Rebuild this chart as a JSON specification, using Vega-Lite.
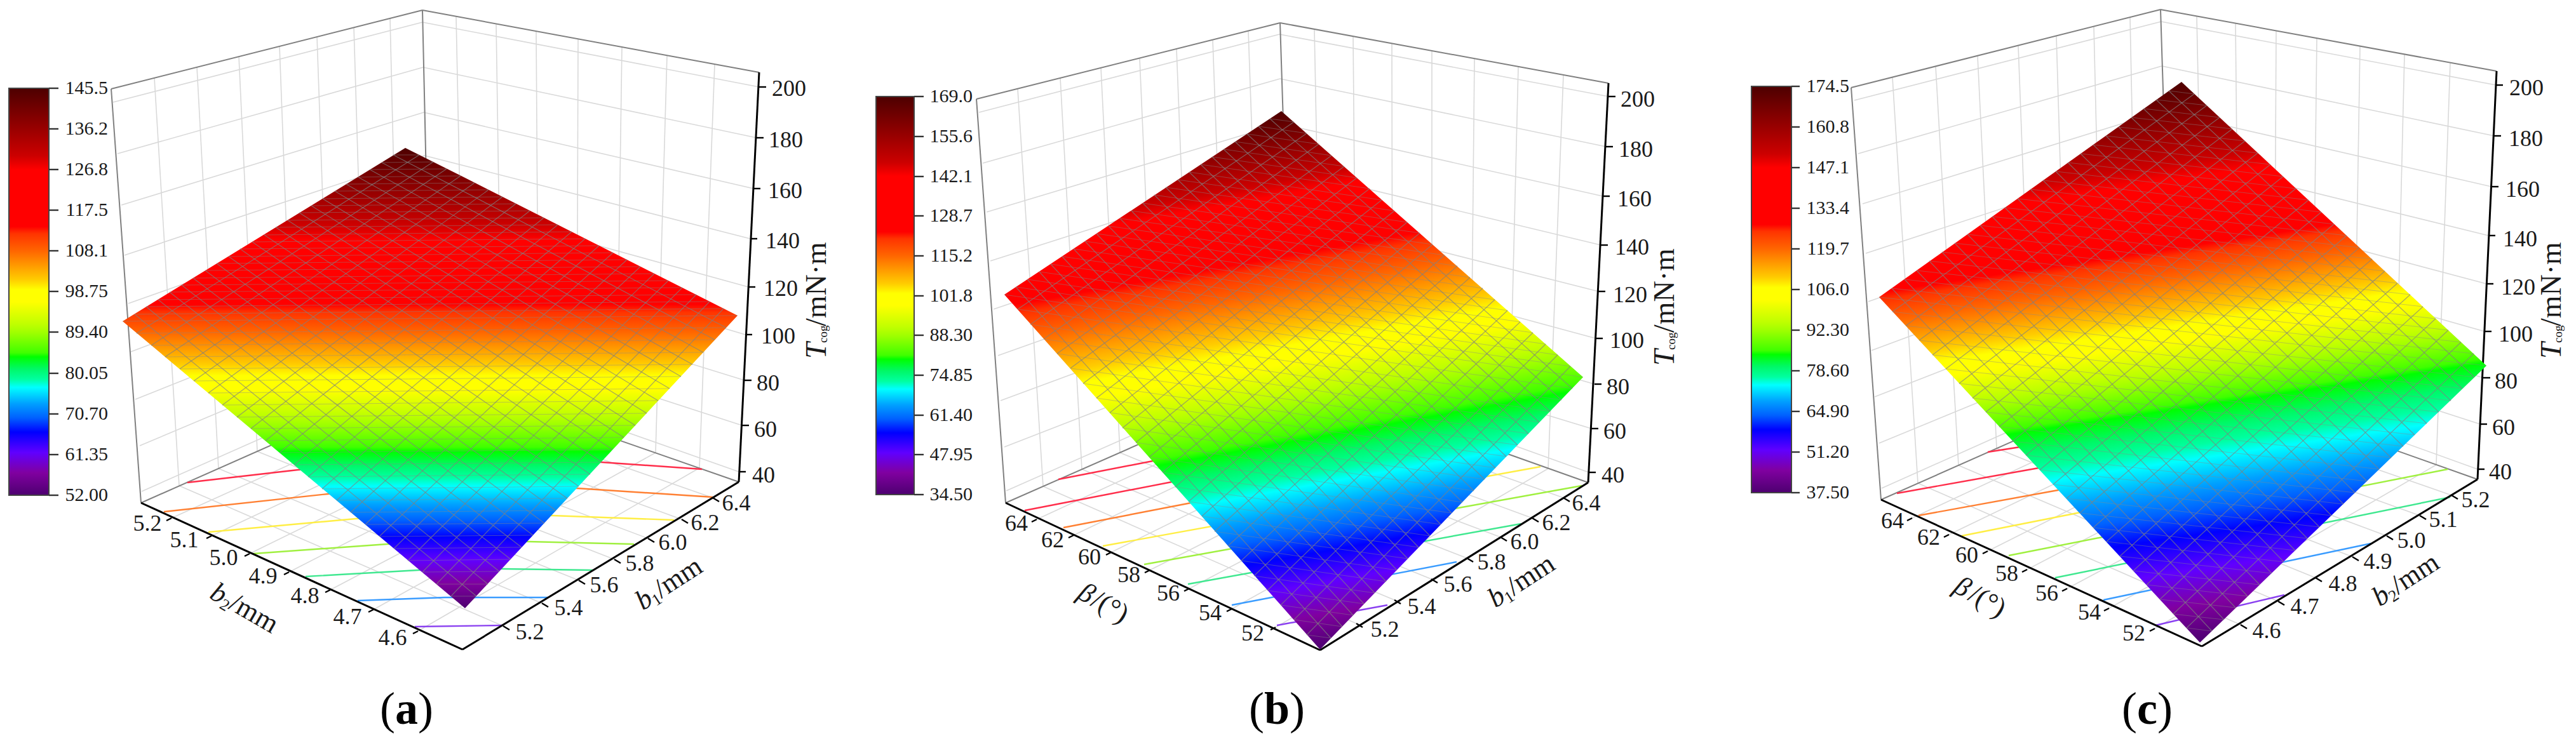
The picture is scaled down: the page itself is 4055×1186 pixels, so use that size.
{"$schema":"https://vega.github.io/schema/vega-lite/v6.json","width":4055,"height":1186,"padding":0,"autosize":{"type":"fit","contains":"padding"},"background":"white","config":{"view":{"stroke":null},"text":{"font":"Liberation Serif","fill":"#1a1a1a"}},
"datasets":{
"grid":[
{"x":178,"y":161,"x2":665,"y2":35},{"x":185,"y":242,"x2":666,"y2":106},{"x":191,"y":323,"x2":667,"y2":177},{"x":196,"y":402,"x2":668,"y2":245},{"x":202,"y":478,"x2":670,"y2":312},{"x":206,"y":554,"x2":672,"y2":378},{"x":213,"y":629,"x2":674,"y2":445},{"x":220,"y":702,"x2":676,"y2":510},{"x":223,"y":774,"x2":678,"y2":572},
{"x":665,"y":35,"x2":1195,"y2":137},{"x":666,"y":106,"x2":1191,"y2":217},{"x":667,"y":177,"x2":1186,"y2":297},{"x":668,"y":245,"x2":1181,"y2":376},{"x":670,"y":312,"x2":1178,"y2":452},{"x":672,"y":378,"x2":1173,"y2":527},{"x":674,"y":445,"x2":1172,"y2":599},{"x":676,"y":510,"x2":1168,"y2":670},{"x":678,"y":572,"x2":1163,"y2":743},
{"x":243,"y":123,"x2":282,"y2":765},{"x":310,"y":106,"x2":344,"y2":738},{"x":376,"y":89,"x2":405,"y2":711},{"x":440,"y":73,"x2":463,"y2":685},{"x":499,"y":58,"x2":520,"y2":660},{"x":557,"y":43,"x2":575,"y2":636},{"x":614,"y":29,"x2":628,"y2":612},
{"x":718,"y":26,"x2":730,"y2":608},{"x":781,"y":37,"x2":790,"y2":629},{"x":844,"y":49,"x2":848,"y2":649},{"x":910,"y":61,"x2":908,"y2":670},{"x":979,"y":74,"x2":970,"y2":692},{"x":1050,"y":87,"x2":1032,"y2":713},{"x":1125,"y":101,"x2":1101,"y2":737},
{"x":270,"y":816,"x2":730,"y2":608},{"x":333,"y":844,"x2":790,"y2":629},{"x":393,"y":872,"x2":848,"y2":649},{"x":455,"y":901,"x2":908,"y2":670},{"x":520,"y":929,"x2":970,"y2":692},{"x":588,"y":960,"x2":1032,"y2":713},{"x":658,"y":994,"x2":1101,"y2":737},
{"x":792,"y":986,"x2":282,"y2":765},{"x":853,"y":950,"x2":344,"y2":738},{"x":911,"y":914,"x2":405,"y2":711},{"x":967,"y":881,"x2":463,"y2":685},{"x":1020,"y":848,"x2":520,"y2":660},{"x":1073,"y":818,"x2":575,"y2":636},{"x":1122,"y":784,"x2":628,"y2":612},
{"x":1541,"y":177,"x2":2014,"y2":54},{"x":1547,"y":257,"x2":2015,"y2":124},{"x":1553,"y":334,"x2":2016,"y2":195},{"x":1559,"y":411,"x2":2017,"y2":265},{"x":1564,"y":487,"x2":2019,"y2":333},{"x":1571,"y":560,"x2":2021,"y2":400},{"x":1575,"y":631,"x2":2024,"y2":465},{"x":1581,"y":704,"x2":2028,"y2":530},{"x":1584,"y":773,"x2":2032,"y2":575},
{"x":2014,"y":54,"x2":2532,"y2":152},{"x":2015,"y":124,"x2":2528,"y2":231},{"x":2016,"y":195,"x2":2523,"y2":309},{"x":2017,"y":265,"x2":2520,"y2":386},{"x":2019,"y":333,"x2":2516,"y2":459},{"x":2021,"y":400,"x2":2512,"y2":533},{"x":2024,"y":465,"x2":2510,"y2":605},{"x":2028,"y":530,"x2":2505,"y2":675},{"x":2032,"y":575,"x2":2501,"y2":744},
{"x":1602,"y":140,"x2":1642,"y2":766},{"x":1669,"y":123,"x2":1703,"y2":739},{"x":1733,"y":107,"x2":1763,"y2":713},{"x":1794,"y":92,"x2":1820,"y2":688},{"x":1852,"y":77,"x2":1875,"y2":663},{"x":1909,"y":63,"x2":1930,"y2":639},{"x":1965,"y":49,"x2":1985,"y2":615},
{"x":2069,"y":46,"x2":2080,"y2":611},{"x":2130,"y":57,"x2":2135,"y2":630},{"x":2191,"y":68,"x2":2192,"y2":651},{"x":2254,"y":80,"x2":2254,"y2":673},{"x":2321,"y":92,"x2":2315,"y2":694},{"x":2390,"y":105,"x2":2375,"y2":716},{"x":2461,"y":118,"x2":2437,"y2":738},
{"x":1632,"y":818,"x2":2080,"y2":611},{"x":1690,"y":843,"x2":2135,"y2":630},{"x":1749,"y":870,"x2":2192,"y2":651},{"x":1810,"y":898,"x2":2254,"y2":673},{"x":1872,"y":927,"x2":2315,"y2":694},{"x":1939,"y":959,"x2":2375,"y2":716},{"x":2008,"y":988,"x2":2437,"y2":738},
{"x":2135,"y":982,"x2":1642,"y2":766},{"x":2195,"y":945,"x2":1703,"y2":739},{"x":2253,"y":912,"x2":1763,"y2":713},{"x":2309,"y":879,"x2":1820,"y2":688},{"x":2362,"y":846,"x2":1875,"y2":663},{"x":2412,"y":816,"x2":1930,"y2":639},{"x":2461,"y":784,"x2":1985,"y2":615},
{"x":2919,"y":158,"x2":3402,"y2":34},{"x":2925,"y":242,"x2":3403,"y2":104},{"x":2932,"y":321,"x2":3404,"y2":175},{"x":2937,"y":399,"x2":3405,"y2":245},{"x":2941,"y":475,"x2":3407,"y2":312},{"x":2946,"y":552,"x2":3410,"y2":380},{"x":2951,"y":625,"x2":3412,"y2":445},{"x":2958,"y":698,"x2":3415,"y2":510},{"x":2962,"y":769,"x2":3418,"y2":565},
{"x":3402,"y":34,"x2":3929,"y2":134},{"x":3403,"y":104,"x2":3926,"y2":214},{"x":3404,"y":175,"x2":3922,"y2":294},{"x":3405,"y":245,"x2":3917,"y2":371},{"x":3407,"y":312,"x2":3914,"y2":447},{"x":3410,"y":380,"x2":3911,"y2":522},{"x":3412,"y":445,"x2":3909,"y2":595},{"x":3415,"y":510,"x2":3904,"y2":668},{"x":3418,"y":565,"x2":3900,"y2":739},
{"x":2979,"y":122,"x2":3019,"y2":761},{"x":3047,"y":105,"x2":3083,"y2":733},{"x":3113,"y":88,"x2":3143,"y2":706},{"x":3177,"y":72,"x2":3200,"y2":681},{"x":3237,"y":57,"x2":3255,"y2":657},{"x":3296,"y":42,"x2":3310,"y2":632},{"x":3353,"y":27,"x2":3365,"y2":608},
{"x":3458,"y":26,"x2":3470,"y2":602},{"x":3519,"y":37,"x2":3525,"y2":622},{"x":3583,"y":48,"x2":3580,"y2":641},{"x":3647,"y":60,"x2":3640,"y2":663},{"x":3715,"y":73,"x2":3705,"y2":686},{"x":3785,"y":85,"x2":3770,"y2":709},{"x":3857,"y":99,"x2":3835,"y2":732},
{"x":3010,"y":816,"x2":3470,"y2":602},{"x":3068,"y":842,"x2":3525,"y2":622},{"x":3129,"y":868,"x2":3580,"y2":641},{"x":3191,"y":897,"x2":3640,"y2":663},{"x":3254,"y":927,"x2":3705,"y2":686},{"x":3320,"y":958,"x2":3770,"y2":709},{"x":3392,"y":990,"x2":3835,"y2":732},
{"x":3527,"y":984,"x2":3019,"y2":761},{"x":3586,"y":947,"x2":3083,"y2":733},{"x":3645,"y":910,"x2":3143,"y2":706},{"x":3703,"y":877,"x2":3200,"y2":681},{"x":3757,"y":844,"x2":3255,"y2":657},{"x":3809,"y":812,"x2":3310,"y2":632},{"x":3859,"y":780,"x2":3365,"y2":608}
],
"frame":[
{"x":175,"y":140,"x2":665,"y2":16},{"x":665,"y":16,"x2":1195,"y2":114},{"x":175,"y":140,"x2":222,"y2":792},{"x":665,"y":16,"x2":678,"y2":590},{"x":222,"y":792,"x2":678,"y2":590},{"x":678,"y":590,"x2":1163,"y2":759},
{"x":1537,"y":156,"x2":2015,"y2":36},{"x":2015,"y":36,"x2":2532,"y2":131},{"x":1537,"y":156,"x2":1583,"y2":792},{"x":2015,"y":36,"x2":2033,"y2":594},{"x":1583,"y":792,"x2":2033,"y2":594},{"x":2033,"y":594,"x2":2500,"y2":760},
{"x":2914,"y":138,"x2":3401,"y2":15},{"x":3401,"y":15,"x2":3930,"y2":112},{"x":2914,"y":138,"x2":2961,"y2":787},{"x":3401,"y":15,"x2":3419,"y2":584},{"x":2961,"y":787,"x2":3419,"y2":584},{"x":3419,"y":584,"x2":3900,"y2":755}
],
"axes":[
{"x":222,"y":792,"x2":728,"y2":1023},{"x":728,"y":1023,"x2":1163,"y2":759},{"x":1195,"y":114,"x2":1163,"y2":759},
{"x":1583,"y":792,"x2":2078,"y2":1024},{"x":2078,"y":1024,"x2":2500,"y2":760},{"x":2532,"y":131,"x2":2500,"y2":760},
{"x":2961,"y":787,"x2":3466,"y2":1018},{"x":3466,"y":1018,"x2":3900,"y2":755},{"x":3930,"y":112,"x2":3900,"y2":755}
],
"ticks":[
{"x":1195,"y":137,"x2":1206,"y2":137},{"x":1191,"y":217,"x2":1202,"y2":217},{"x":1186,"y":297,"x2":1197,"y2":297},{"x":1181,"y":376,"x2":1192,"y2":376},{"x":1178,"y":452,"x2":1189,"y2":452},{"x":1173,"y":527,"x2":1184,"y2":527},{"x":1172,"y":599,"x2":1183,"y2":599},{"x":1168,"y":670,"x2":1179,"y2":670},{"x":1163,"y":743,"x2":1174,"y2":743},
{"x":2532,"y":152,"x2":2543,"y2":152},{"x":2528,"y":231,"x2":2539,"y2":231},{"x":2523,"y":309,"x2":2534,"y2":309},{"x":2520,"y":386,"x2":2531,"y2":386},{"x":2516,"y":459,"x2":2527,"y2":459},{"x":2512,"y":533,"x2":2523,"y2":533},{"x":2510,"y":605,"x2":2521,"y2":605},{"x":2505,"y":675,"x2":2516,"y2":675},{"x":2501,"y":744,"x2":2512,"y2":744},
{"x":3929,"y":134,"x2":3940,"y2":134},{"x":3926,"y":214,"x2":3937,"y2":214},{"x":3922,"y":294,"x2":3933,"y2":294},{"x":3917,"y":371,"x2":3928,"y2":371},{"x":3914,"y":447,"x2":3925,"y2":447},{"x":3911,"y":522,"x2":3922,"y2":522},{"x":3909,"y":595,"x2":3920,"y2":595},{"x":3904,"y":668,"x2":3915,"y2":668},{"x":3900,"y":739,"x2":3911,"y2":739},
{"x":270,"y":816,"x2":262,"y2":820},{"x":333,"y":844,"x2":325,"y2":848},{"x":393,"y":872,"x2":385,"y2":876},{"x":455,"y":901,"x2":447,"y2":905},{"x":520,"y":929,"x2":512,"y2":933},{"x":588,"y":960,"x2":580,"y2":964},{"x":658,"y":994,"x2":650,"y2":998},
{"x":792,"y":986,"x2":802,"y2":992},{"x":853,"y":950,"x2":863,"y2":956},{"x":911,"y":914,"x2":921,"y2":920},{"x":967,"y":881,"x2":977,"y2":887},{"x":1020,"y":848,"x2":1030,"y2":854},{"x":1073,"y":818,"x2":1083,"y2":824},{"x":1122,"y":784,"x2":1132,"y2":790},
{"x":1632,"y":818,"x2":1624,"y2":822},{"x":1690,"y":843,"x2":1682,"y2":847},{"x":1749,"y":870,"x2":1741,"y2":874},{"x":1810,"y":898,"x2":1802,"y2":902},{"x":1872,"y":927,"x2":1864,"y2":931},{"x":1939,"y":959,"x2":1931,"y2":963},{"x":2008,"y":988,"x2":2000,"y2":992},
{"x":2135,"y":982,"x2":2145,"y2":988},{"x":2195,"y":945,"x2":2205,"y2":951},{"x":2253,"y":912,"x2":2263,"y2":918},{"x":2309,"y":879,"x2":2319,"y2":885},{"x":2362,"y":846,"x2":2372,"y2":852},{"x":2412,"y":816,"x2":2422,"y2":822},{"x":2461,"y":784,"x2":2471,"y2":790},
{"x":3010,"y":816,"x2":3002,"y2":820},{"x":3068,"y":842,"x2":3060,"y2":846},{"x":3129,"y":868,"x2":3121,"y2":872},{"x":3191,"y":897,"x2":3183,"y2":901},{"x":3254,"y":927,"x2":3246,"y2":931},{"x":3320,"y":958,"x2":3312,"y2":962},{"x":3392,"y":990,"x2":3384,"y2":994},
{"x":3527,"y":984,"x2":3537,"y2":990},{"x":3586,"y":947,"x2":3596,"y2":953},{"x":3645,"y":910,"x2":3655,"y2":916},{"x":3703,"y":877,"x2":3713,"y2":883},{"x":3757,"y":844,"x2":3767,"y2":850},{"x":3809,"y":812,"x2":3819,"y2":818},{"x":3859,"y":780,"x2":3869,"y2":786}
],
"contours":[
{"line":"a1","level":"l1","x":295,"y":760},{"line":"a1","level":"l1","x":469,"y":740},{"line":"a1","level":"l1","x":700,"y":722},{"line":"a1","level":"l1","x":947,"y":728},{"line":"a1","level":"l1","x":1105,"y":739},
{"line":"a2","level":"l2","x":258,"y":806},{"line":"a2","level":"l2","x":516,"y":778},{"line":"a2","level":"l2","x":700,"y":765},{"line":"a2","level":"l2","x":908,"y":769},{"line":"a2","level":"l2","x":1122,"y":783},
{"line":"a3","level":"l3","x":328,"y":838},{"line":"a3","level":"l3","x":560,"y":817},{"line":"a3","level":"l3","x":700,"y":808},{"line":"a3","level":"l3","x":869,"y":812},{"line":"a3","level":"l3","x":1061,"y":819},
{"line":"a4","level":"l4","x":399,"y":872},{"line":"a4","level":"l4","x":609,"y":857},{"line":"a4","level":"l4","x":720,"y":850},{"line":"a4","level":"l4","x":831,"y":853},{"line":"a4","level":"l4","x":998,"y":857},
{"line":"a5","level":"l5","x":481,"y":908},{"line":"a5","level":"l5","x":658,"y":898},{"line":"a5","level":"l5","x":730,"y":895},{"line":"a5","level":"l5","x":793,"y":896},{"line":"a5","level":"l5","x":933,"y":898},
{"line":"a6","level":"l6","x":563,"y":946},{"line":"a6","level":"l6","x":700,"y":941},{"line":"a6","level":"l6","x":862,"y":941},
{"line":"a7","level":"l7","x":653,"y":987},{"line":"a7","level":"l7","x":791,"y":985},
{"line":"b0","level":"l1","x":1666,"y":755},{"line":"b0","level":"l1","x":1820,"y":725},
{"line":"b1","level":"l1","x":1613,"y":804},{"line":"b1","level":"l1","x":1850,"y":758},
{"line":"b2","level":"l2","x":1674,"y":831},{"line":"b2","level":"l2","x":1880,"y":791},
{"line":"b3","level":"l3","x":1736,"y":860},{"line":"b3","level":"l3","x":2425,"y":735},
{"line":"b4","level":"l4","x":1801,"y":889},{"line":"b4","level":"l4","x":2490,"y":765},
{"line":"b5","level":"l5","x":1870,"y":920},{"line":"b5","level":"l5","x":2394,"y":825},
{"line":"b6","level":"l6","x":1939,"y":953},{"line":"b6","level":"l6","x":2293,"y":885},
{"line":"b7","level":"l7","x":2010,"y":985},{"line":"b7","level":"l7","x":2184,"y":953},
{"line":"c0","level":"l1","x":3129,"y":712},{"line":"c0","level":"l1","x":3180,"y":704},
{"line":"c1","level":"l1","x":2986,"y":777},{"line":"c1","level":"l1","x":3215,"y":736},
{"line":"c2","level":"l2","x":3020,"y":812},{"line":"c2","level":"l2","x":3245,"y":771},
{"line":"c3","level":"l3","x":3088,"y":844},{"line":"c3","level":"l3","x":3280,"y":806},
{"line":"c4","level":"l4","x":3162,"y":875},{"line":"c4","level":"l4","x":3853,"y":739},
{"line":"c5","level":"l5","x":3235,"y":910},{"line":"c5","level":"l5","x":3857,"y":783},
{"line":"c6","level":"l6","x":3311,"y":945},{"line":"c6","level":"l6","x":3732,"y":856},
{"line":"c7","level":"l7","x":3393,"y":985},{"line":"c7","level":"l7","x":3596,"y":937}
],
"surfA":[{"x":193,"y":506,"y2":506},{"x":638,"y":233,"y2":879},{"x":732,"y":280,"y2":958},{"x":1161,"y":497,"y2":497}],
"surfB":[{"x":1581,"y":464,"y2":464},{"x":2017,"y":175,"y2":954},{"x":2078,"y":229,"y2":1023},{"x":2492,"y":594,"y2":594}],
"surfC":[{"x":2958,"y":468,"y2":468},{"x":3434,"y":129,"y2":981},{"x":3463,"y":156,"y2":1012},{"x":3914,"y":576,"y2":576}],
"mesh":[
{"x":215,"y":525,"x2":660,"y2":244},{"x":238,"y":544,"x2":682,"y2":255},{"x":260,"y":562,"x2":703,"y2":266},{"x":283,"y":581,"x2":725,"y2":277},{"x":305,"y":600,"x2":747,"y2":288},{"x":328,"y":619,"x2":769,"y2":299},{"x":350,"y":638,"x2":791,"y2":310},{"x":373,"y":657,"x2":812,"y2":321},{"x":395,"y":675,"x2":834,"y2":332},{"x":418,"y":694,"x2":856,"y2":343},{"x":440,"y":713,"x2":878,"y2":354},{"x":463,"y":732,"x2":900,"y2":365},{"x":485,"y":751,"x2":921,"y2":376},{"x":507,"y":770,"x2":943,"y2":387},{"x":530,"y":788,"x2":965,"y2":398},{"x":552,"y":807,"x2":987,"y2":409},{"x":575,"y":826,"x2":1008,"y2":420},{"x":597,"y":845,"x2":1030,"y2":431},{"x":620,"y":864,"x2":1052,"y2":442},{"x":642,"y":883,"x2":1074,"y2":453},{"x":665,"y":901,"x2":1096,"y2":464},{"x":687,"y":920,"x2":1117,"y2":475},{"x":710,"y":939,"x2":1139,"y2":486},
{"x":212,"y":495,"x2":750,"y2":939},{"x":230,"y":483,"x2":768,"y2":920},{"x":249,"y":472,"x2":786,"y2":900},{"x":267,"y":460,"x2":804,"y2":881},{"x":286,"y":449,"x2":821,"y2":862},{"x":304,"y":438,"x2":839,"y2":843},{"x":323,"y":426,"x2":857,"y2":824},{"x":341,"y":415,"x2":875,"y2":804},{"x":360,"y":404,"x2":893,"y2":785},{"x":378,"y":392,"x2":911,"y2":766},{"x":397,"y":381,"x2":929,"y2":747},{"x":416,"y":370,"x2":947,"y2":728},{"x":434,"y":358,"x2":964,"y2":708},{"x":453,"y":347,"x2":982,"y2":689},{"x":471,"y":335,"x2":1000,"y2":670},{"x":490,"y":324,"x2":1018,"y2":651},{"x":508,"y":313,"x2":1036,"y2":631},{"x":527,"y":301,"x2":1054,"y2":612},{"x":545,"y":290,"x2":1072,"y2":593},{"x":564,"y":279,"x2":1090,"y2":574},{"x":582,"y":267,"x2":1107,"y2":555},{"x":601,"y":256,"x2":1125,"y2":535},{"x":619,"y":244,"x2":1143,"y2":516},
{"x":1602,"y":487,"x2":2037,"y2":192},{"x":1622,"y":511,"x2":2057,"y2":210},{"x":1643,"y":534,"x2":2076,"y2":227},{"x":1664,"y":557,"x2":2096,"y2":245},{"x":1685,"y":580,"x2":2116,"y2":262},{"x":1705,"y":604,"x2":2136,"y2":280},{"x":1726,"y":627,"x2":2156,"y2":297},{"x":1747,"y":650,"x2":2175,"y2":315},{"x":1767,"y":674,"x2":2195,"y2":332},{"x":1788,"y":697,"x2":2215,"y2":350},{"x":1809,"y":720,"x2":2235,"y2":367},{"x":1830,"y":744,"x2":2255,"y2":385},{"x":1850,"y":767,"x2":2274,"y2":402},{"x":1871,"y":790,"x2":2294,"y2":419},{"x":1892,"y":813,"x2":2314,"y2":437},{"x":1912,"y":837,"x2":2334,"y2":454},{"x":1933,"y":860,"x2":2353,"y2":472},{"x":1954,"y":883,"x2":2373,"y2":489},{"x":1974,"y":907,"x2":2393,"y2":507},{"x":1995,"y":930,"x2":2413,"y2":524},{"x":2016,"y":953,"x2":2433,"y2":542},{"x":2037,"y":976,"x2":2452,"y2":559},{"x":2057,"y":1000,"x2":2472,"y2":577},
{"x":1599,"y":452,"x2":2095,"y2":1005},{"x":1617,"y":440,"x2":2113,"y2":987},{"x":1636,"y":428,"x2":2130,"y2":969},{"x":1654,"y":416,"x2":2147,"y2":951},{"x":1672,"y":404,"x2":2164,"y2":934},{"x":1690,"y":392,"x2":2182,"y2":916},{"x":1708,"y":380,"x2":2199,"y2":898},{"x":1726,"y":368,"x2":2216,"y2":880},{"x":1745,"y":356,"x2":2233,"y2":862},{"x":1763,"y":344,"x2":2251,"y2":844},{"x":1781,"y":332,"x2":2268,"y2":826},{"x":1799,"y":320,"x2":2285,"y2":808},{"x":1817,"y":307,"x2":2302,"y2":791},{"x":1835,"y":295,"x2":2320,"y2":773},{"x":1854,"y":283,"x2":2337,"y2":755},{"x":1872,"y":271,"x2":2354,"y2":737},{"x":1890,"y":259,"x2":2371,"y2":719},{"x":1908,"y":247,"x2":2389,"y2":701},{"x":1926,"y":235,"x2":2406,"y2":683},{"x":1944,"y":223,"x2":2423,"y2":665},{"x":1963,"y":211,"x2":2440,"y2":648},{"x":1981,"y":199,"x2":2458,"y2":630},{"x":1999,"y":187,"x2":2475,"y2":612},
{"x":2979,"y":491,"x2":3454,"y2":148},{"x":3000,"y":513,"x2":3474,"y2":166},{"x":3021,"y":536,"x2":3494,"y2":185},{"x":3042,"y":559,"x2":3514,"y2":203},{"x":3063,"y":581,"x2":3534,"y2":222},{"x":3084,"y":604,"x2":3554,"y2":241},{"x":3105,"y":627,"x2":3574,"y2":259},{"x":3126,"y":649,"x2":3594,"y2":278},{"x":3147,"y":672,"x2":3614,"y2":297},{"x":3168,"y":695,"x2":3634,"y2":315},{"x":3189,"y":717,"x2":3654,"y2":334},{"x":3211,"y":740,"x2":3674,"y2":353},{"x":3232,"y":763,"x2":3694,"y2":371},{"x":3253,"y":785,"x2":3714,"y2":390},{"x":3274,"y":808,"x2":3734,"y2":408},{"x":3295,"y":831,"x2":3754,"y2":427},{"x":3316,"y":853,"x2":3774,"y2":446},{"x":3337,"y":876,"x2":3794,"y2":464},{"x":3358,"y":899,"x2":3814,"y2":483},{"x":3379,"y":921,"x2":3834,"y2":502},{"x":3400,"y":944,"x2":3854,"y2":520},{"x":3421,"y":967,"x2":3874,"y2":539},{"x":3442,"y":989,"x2":3894,"y2":557},
{"x":2978,"y":454,"x2":3482,"y2":994},{"x":2998,"y":440,"x2":3501,"y2":976},{"x":3017,"y":426,"x2":3519,"y2":957},{"x":3037,"y":411,"x2":3538,"y2":939},{"x":3057,"y":397,"x2":3557,"y2":921},{"x":3077,"y":383,"x2":3576,"y2":903},{"x":3097,"y":369,"x2":3595,"y2":885},{"x":3117,"y":355,"x2":3613,"y2":867},{"x":3136,"y":341,"x2":3632,"y2":848},{"x":3156,"y":327,"x2":3651,"y2":830},{"x":3176,"y":313,"x2":3670,"y2":812},{"x":3196,"y":298,"x2":3689,"y2":794},{"x":3216,"y":284,"x2":3707,"y2":776},{"x":3236,"y":270,"x2":3726,"y2":758},{"x":3255,"y":256,"x2":3745,"y2":739},{"x":3275,"y":242,"x2":3764,"y2":721},{"x":3295,"y":228,"x2":3783,"y2":703},{"x":3315,"y":214,"x2":3801,"y2":685},{"x":3335,"y":200,"x2":3820,"y2":667},{"x":3355,"y":185,"x2":3839,"y2":649},{"x":3374,"y":171,"x2":3858,"y2":631},{"x":3394,"y":157,"x2":3876,"y2":612},{"x":3414,"y":143,"x2":3895,"y2":594}
],
"diag":[
{"x":212,"y":495,"x2":1139,"y2":486},{"x":230,"y":483,"x2":1117,"y2":475},{"x":249,"y":472,"x2":1096,"y2":464},{"x":267,"y":460,"x2":1074,"y2":453},{"x":286,"y":449,"x2":1052,"y2":442},{"x":304,"y":438,"x2":1030,"y2":431},{"x":323,"y":426,"x2":1008,"y2":420},{"x":341,"y":415,"x2":987,"y2":409},{"x":360,"y":404,"x2":965,"y2":398},{"x":378,"y":392,"x2":943,"y2":387},{"x":397,"y":381,"x2":921,"y2":376},{"x":416,"y":370,"x2":900,"y2":365},{"x":434,"y":358,"x2":878,"y2":354},{"x":453,"y":347,"x2":856,"y2":343},{"x":471,"y":335,"x2":834,"y2":332},{"x":490,"y":324,"x2":812,"y2":321},{"x":508,"y":313,"x2":791,"y2":310},{"x":527,"y":301,"x2":769,"y2":299},{"x":545,"y":290,"x2":747,"y2":288},{"x":564,"y":279,"x2":725,"y2":277},{"x":582,"y":267,"x2":703,"y2":266},{"x":601,"y":256,"x2":682,"y2":255},{"x":619,"y":244,"x2":660,"y2":244},
{"x":193,"y":506,"x2":1161,"y2":497},{"x":215,"y":525,"x2":1143,"y2":516},{"x":238,"y":544,"x2":1125,"y2":535},{"x":260,"y":562,"x2":1107,"y2":555},{"x":283,"y":581,"x2":1090,"y2":574},{"x":305,"y":600,"x2":1072,"y2":593},{"x":328,"y":619,"x2":1054,"y2":612},{"x":350,"y":638,"x2":1036,"y2":631},{"x":373,"y":657,"x2":1018,"y2":651},{"x":395,"y":675,"x2":1000,"y2":670},{"x":418,"y":694,"x2":982,"y2":689},{"x":440,"y":713,"x2":964,"y2":708},{"x":463,"y":732,"x2":947,"y2":728},{"x":485,"y":751,"x2":929,"y2":747},{"x":507,"y":770,"x2":911,"y2":766},{"x":530,"y":788,"x2":893,"y2":785},{"x":552,"y":807,"x2":875,"y2":804},{"x":575,"y":826,"x2":857,"y2":824},{"x":597,"y":845,"x2":839,"y2":843},{"x":620,"y":864,"x2":821,"y2":862},{"x":642,"y":883,"x2":804,"y2":881},{"x":665,"y":901,"x2":786,"y2":900},{"x":687,"y":920,"x2":768,"y2":920},{"x":710,"y":939,"x2":750,"y2":939},
{"x":1599,"y":452,"x2":2472,"y2":577},{"x":1617,"y":440,"x2":2452,"y2":559},{"x":1636,"y":428,"x2":2433,"y2":542},{"x":1654,"y":416,"x2":2413,"y2":524},{"x":1672,"y":404,"x2":2393,"y2":507},{"x":1690,"y":392,"x2":2373,"y2":489},{"x":1708,"y":380,"x2":2353,"y2":472},{"x":1726,"y":368,"x2":2334,"y2":454},{"x":1745,"y":356,"x2":2314,"y2":437},{"x":1763,"y":344,"x2":2294,"y2":419},{"x":1781,"y":332,"x2":2274,"y2":402},{"x":1799,"y":320,"x2":2255,"y2":385},{"x":1817,"y":307,"x2":2235,"y2":367},{"x":1835,"y":295,"x2":2215,"y2":350},{"x":1854,"y":283,"x2":2195,"y2":332},{"x":1872,"y":271,"x2":2175,"y2":315},{"x":1890,"y":259,"x2":2156,"y2":297},{"x":1908,"y":247,"x2":2136,"y2":280},{"x":1926,"y":235,"x2":2116,"y2":262},{"x":1944,"y":223,"x2":2096,"y2":245},{"x":1963,"y":211,"x2":2076,"y2":227},{"x":1981,"y":199,"x2":2057,"y2":210},{"x":1999,"y":187,"x2":2037,"y2":192},
{"x":1581,"y":464,"x2":2492,"y2":594},{"x":1602,"y":487,"x2":2475,"y2":612},{"x":1622,"y":511,"x2":2458,"y2":630},{"x":1643,"y":534,"x2":2440,"y2":648},{"x":1664,"y":557,"x2":2423,"y2":665},{"x":1685,"y":580,"x2":2406,"y2":683},{"x":1705,"y":604,"x2":2389,"y2":701},{"x":1726,"y":627,"x2":2371,"y2":719},{"x":1747,"y":650,"x2":2354,"y2":737},{"x":1767,"y":674,"x2":2337,"y2":755},{"x":1788,"y":697,"x2":2320,"y2":773},{"x":1809,"y":720,"x2":2302,"y2":791},{"x":1830,"y":744,"x2":2285,"y2":808},{"x":1850,"y":767,"x2":2268,"y2":826},{"x":1871,"y":790,"x2":2251,"y2":844},{"x":1892,"y":813,"x2":2233,"y2":862},{"x":1912,"y":837,"x2":2216,"y2":880},{"x":1933,"y":860,"x2":2199,"y2":898},{"x":1954,"y":883,"x2":2182,"y2":916},{"x":1974,"y":907,"x2":2164,"y2":934},{"x":1995,"y":930,"x2":2147,"y2":951},{"x":2016,"y":953,"x2":2130,"y2":969},{"x":2037,"y":976,"x2":2113,"y2":987},{"x":2057,"y":1000,"x2":2095,"y2":1005},
{"x":2978,"y":454,"x2":3894,"y2":557},{"x":2998,"y":440,"x2":3874,"y2":539},{"x":3017,"y":426,"x2":3854,"y2":520},{"x":3037,"y":411,"x2":3834,"y2":502},{"x":3057,"y":397,"x2":3814,"y2":483},{"x":3077,"y":383,"x2":3794,"y2":464},{"x":3097,"y":369,"x2":3774,"y2":446},{"x":3117,"y":355,"x2":3754,"y2":427},{"x":3136,"y":341,"x2":3734,"y2":408},{"x":3156,"y":327,"x2":3714,"y2":390},{"x":3176,"y":313,"x2":3694,"y2":371},{"x":3196,"y":298,"x2":3674,"y2":353},{"x":3216,"y":284,"x2":3654,"y2":334},{"x":3236,"y":270,"x2":3634,"y2":315},{"x":3255,"y":256,"x2":3614,"y2":297},{"x":3275,"y":242,"x2":3594,"y2":278},{"x":3295,"y":228,"x2":3574,"y2":259},{"x":3315,"y":214,"x2":3554,"y2":241},{"x":3335,"y":200,"x2":3534,"y2":222},{"x":3355,"y":185,"x2":3514,"y2":203},{"x":3374,"y":171,"x2":3494,"y2":185},{"x":3394,"y":157,"x2":3474,"y2":166},{"x":3414,"y":143,"x2":3454,"y2":148},
{"x":2958,"y":468,"x2":3914,"y2":576},{"x":2979,"y":491,"x2":3895,"y2":594},{"x":3000,"y":513,"x2":3876,"y2":612},{"x":3021,"y":536,"x2":3858,"y2":631},{"x":3042,"y":559,"x2":3839,"y2":649},{"x":3063,"y":581,"x2":3820,"y2":667},{"x":3084,"y":604,"x2":3801,"y2":685},{"x":3105,"y":627,"x2":3783,"y2":703},{"x":3126,"y":649,"x2":3764,"y2":721},{"x":3147,"y":672,"x2":3745,"y2":739},{"x":3168,"y":695,"x2":3726,"y2":758},{"x":3189,"y":717,"x2":3707,"y2":776},{"x":3211,"y":740,"x2":3689,"y2":794},{"x":3232,"y":763,"x2":3670,"y2":812},{"x":3253,"y":785,"x2":3651,"y2":830},{"x":3274,"y":808,"x2":3632,"y2":848},{"x":3295,"y":831,"x2":3613,"y2":867},{"x":3316,"y":853,"x2":3595,"y2":885},{"x":3337,"y":876,"x2":3576,"y2":903},{"x":3358,"y":899,"x2":3557,"y2":921},{"x":3379,"y":921,"x2":3538,"y2":939},{"x":3400,"y":944,"x2":3519,"y2":957},{"x":3421,"y":967,"x2":3501,"y2":976},{"x":3442,"y":989,"x2":3482,"y2":994}
],
"bars":[{"x":14,"x2":77,"y":139,"y2":780},{"x":1379,"x2":1439,"y":152,"y2":779},{"x":2757,"x2":2820,"y":136,"y2":776}],
"barTicks":[
{"x":77,"x2":92,"y":139,"y2":139},{"x":77,"x2":92,"y":203,"y2":203},{"x":77,"x2":92,"y":267,"y2":267},{"x":77,"x2":92,"y":331,"y2":331},{"x":77,"x2":92,"y":395,"y2":395},{"x":77,"x2":92,"y":459,"y2":459},{"x":77,"x2":92,"y":523,"y2":523},{"x":77,"x2":92,"y":588,"y2":588},{"x":77,"x2":92,"y":652,"y2":652},{"x":77,"x2":92,"y":716,"y2":716},{"x":77,"x2":92,"y":780,"y2":780},
{"x":1439,"x2":1454,"y":152,"y2":152},{"x":1439,"x2":1454,"y":215,"y2":215},{"x":1439,"x2":1454,"y":278,"y2":278},{"x":1439,"x2":1454,"y":340,"y2":340},{"x":1439,"x2":1454,"y":403,"y2":403},{"x":1439,"x2":1454,"y":466,"y2":466},{"x":1439,"x2":1454,"y":528,"y2":528},{"x":1439,"x2":1454,"y":591,"y2":591},{"x":1439,"x2":1454,"y":654,"y2":654},{"x":1439,"x2":1454,"y":716,"y2":716},{"x":1439,"x2":1454,"y":779,"y2":779},
{"x":2820,"x2":2833,"y":136,"y2":136},{"x":2820,"x2":2833,"y":200,"y2":200},{"x":2820,"x2":2833,"y":264,"y2":264},{"x":2820,"x2":2833,"y":328,"y2":328},{"x":2820,"x2":2833,"y":392,"y2":392},{"x":2820,"x2":2833,"y":456,"y2":456},{"x":2820,"x2":2833,"y":520,"y2":520},{"x":2820,"x2":2833,"y":584,"y2":584},{"x":2820,"x2":2833,"y":648,"y2":648},{"x":2820,"x2":2833,"y":712,"y2":712},{"x":2820,"x2":2833,"y":776,"y2":776}
],
"barLabels":[
{"x":170,"y":139,"t":"145.5"},{"x":170,"y":203,"t":"136.2"},{"x":170,"y":267,"t":"126.8"},{"x":170,"y":331,"t":"117.5"},{"x":170,"y":395,"t":"108.1"},{"x":170,"y":459,"t":"98.75"},{"x":170,"y":523,"t":"89.40"},{"x":170,"y":588,"t":"80.05"},{"x":170,"y":652,"t":"70.70"},{"x":170,"y":716,"t":"61.35"},{"x":170,"y":780,"t":"52.00"},
{"x":1531,"y":152,"t":"169.0"},{"x":1531,"y":215,"t":"155.6"},{"x":1531,"y":278,"t":"142.1"},{"x":1531,"y":340,"t":"128.7"},{"x":1531,"y":403,"t":"115.2"},{"x":1531,"y":466,"t":"101.8"},{"x":1531,"y":528,"t":"88.30"},{"x":1531,"y":591,"t":"74.85"},{"x":1531,"y":654,"t":"61.40"},{"x":1531,"y":716,"t":"47.95"},{"x":1531,"y":779,"t":"34.50"},
{"x":2911,"y":136,"t":"174.5"},{"x":2911,"y":200,"t":"160.8"},{"x":2911,"y":264,"t":"147.1"},{"x":2911,"y":328,"t":"133.4"},{"x":2911,"y":392,"t":"119.7"},{"x":2911,"y":456,"t":"106.0"},{"x":2911,"y":520,"t":"92.30"},{"x":2911,"y":584,"t":"78.60"},{"x":2911,"y":648,"t":"64.90"},{"x":2911,"y":712,"t":"51.20"},{"x":2911,"y":776,"t":"37.50"}
],
"zLabels":[
{"x":1215,"y":140,"t":"200"},{"x":1210,"y":221,"t":"180"},{"x":1209,"y":301,"t":"160"},{"x":1205,"y":380,"t":"140"},{"x":1202,"y":455,"t":"120"},{"x":1198,"y":530,"t":"100"},{"x":1191,"y":604,"t":"80"},{"x":1187,"y":677,"t":"60"},{"x":1184,"y":749,"t":"40"},
{"x":2551,"y":157,"t":"200"},{"x":2548,"y":236,"t":"180"},{"x":2546,"y":314,"t":"160"},{"x":2542,"y":390,"t":"140"},{"x":2539,"y":465,"t":"120"},{"x":2534,"y":537,"t":"100"},{"x":2529,"y":610,"t":"80"},{"x":2524,"y":680,"t":"60"},{"x":2521,"y":749,"t":"40"},
{"x":3950,"y":139,"t":"200"},{"x":3949,"y":219,"t":"180"},{"x":3944,"y":299,"t":"160"},{"x":3940,"y":377,"t":"140"},{"x":3937,"y":453,"t":"120"},{"x":3933,"y":527,"t":"100"},{"x":3927,"y":601,"t":"80"},{"x":3923,"y":674,"t":"60"},{"x":3918,"y":744,"t":"40"}
],
"floorLabels":[
{"x":232,"y":825,"t":"5.2"},{"x":290,"y":851,"t":"5.1"},{"x":352,"y":879,"t":"5.0"},{"x":414,"y":908,"t":"4.9"},{"x":480,"y":939,"t":"4.8"},{"x":547,"y":972,"t":"4.7"},{"x":618,"y":1005,"t":"4.6"},
{"x":834,"y":996,"t":"5.2"},{"x":895,"y":958,"t":"5.4"},{"x":951,"y":922,"t":"5.6"},{"x":1007,"y":888,"t":"5.8"},{"x":1059,"y":855,"t":"6.0"},{"x":1110,"y":824,"t":"6.2"},{"x":1159,"y":793,"t":"6.4"},
{"x":1600,"y":825,"t":"64"},{"x":1657,"y":851,"t":"62"},{"x":1715,"y":878,"t":"60"},{"x":1777,"y":906,"t":"58"},{"x":1839,"y":935,"t":"56"},{"x":1905,"y":966,"t":"54"},{"x":1972,"y":998,"t":"52"},
{"x":2180,"y":992,"t":"5.2"},{"x":2238,"y":956,"t":"5.4"},{"x":2295,"y":921,"t":"5.6"},{"x":2348,"y":886,"t":"5.8"},{"x":2400,"y":854,"t":"6.0"},{"x":2450,"y":824,"t":"6.2"},{"x":2497,"y":793,"t":"6.4"},
{"x":2979,"y":821,"t":"64"},{"x":3036,"y":847,"t":"62"},{"x":3096,"y":875,"t":"60"},{"x":3159,"y":904,"t":"58"},{"x":3222,"y":935,"t":"56"},{"x":3289,"y":965,"t":"54"},{"x":3359,"y":998,"t":"52"},
{"x":3568,"y":994,"t":"4.6"},{"x":3628,"y":956,"t":"4.7"},{"x":3688,"y":920,"t":"4.8"},{"x":3743,"y":885,"t":"4.9"},{"x":3796,"y":852,"t":"5.0"},{"x":3846,"y":819,"t":"5.1"},{"x":3897,"y":788,"t":"5.2"}
]
},
"encoding":{"x":{"field":"x","type":"quantitative","scale":{"domain":[0,4055],"nice":false,"zero":false},"axis":null},"y":{"field":"y","type":"quantitative","scale":{"domain":[1186,0],"nice":false,"zero":false},"axis":null}},
"layer":[
{"data":{"name":"grid"},"mark":{"type":"rule","stroke":"#d9d9d9","strokeWidth":1.6},"encoding":{"x2":{"field":"x2"},"y2":{"field":"y2"}}},
{"data":{"name":"frame"},"mark":{"type":"rule","stroke":"#808080","strokeWidth":2},"encoding":{"x2":{"field":"x2"},"y2":{"field":"y2"}}},
{"data":{"name":"contours"},"mark":{"type":"line","strokeWidth":2.4},"encoding":{"detail":{"field":"line"},"color":{"field":"level","type":"nominal","legend":null,"scale":{"domain":["l1","l2","l3","l4","l5","l6","l7"],"range":["#ff2d4a","#ff8033","#ffee44","#a0f040","#40e890","#3a9cff","#8a40f0"]}}}},
{"data":{"name":"axes"},"mark":{"type":"rule","stroke":"#000000","strokeWidth":3},"encoding":{"x2":{"field":"x2"},"y2":{"field":"y2"}}},
{"data":{"name":"ticks"},"mark":{"type":"rule","stroke":"#000000","strokeWidth":2.4},"encoding":{"x2":{"field":"x2"},"y2":{"field":"y2"}}},
{"data":{"name":"surfA"},"mark":{"type":"area","color":{"gradient":"linear","x1":0.5,"y1":0,"x2":0.5,"y2":1,"stops":[{"offset":0,"color":"#4d0000"},{"offset":0.1,"color":"#990000"},{"offset":0.166,"color":"#cc0000"},{"offset":0.2,"color":"#ff0000"},{"offset":0.34,"color":"#ff0000"},{"offset":0.357,"color":"#ff3300"},{"offset":0.4,"color":"#ff6600"},{"offset":0.435,"color":"#ff9900"},{"offset":0.47,"color":"#ffcc00"},{"offset":0.495,"color":"#ffff00"},{"offset":0.525,"color":"#ffff00"},{"offset":0.58,"color":"#bfff00"},{"offset":0.6,"color":"#a0ff00"},{"offset":0.65,"color":"#40ff00"},{"offset":0.66,"color":"#00ff00"},{"offset":0.69,"color":"#00f868"},{"offset":0.715,"color":"#00ffa0"},{"offset":0.735,"color":"#00ffff"},{"offset":0.775,"color":"#00a0ff"},{"offset":0.81,"color":"#0060ff"},{"offset":0.845,"color":"#0000ff"},{"offset":0.895,"color":"#6000ff"},{"offset":0.945,"color":"#8000a0"},{"offset":1,"color":"#4d0070"}]}},"encoding":{"y2":{"field":"y2"}}},
{"data":{"name":"surfB"},"mark":{"type":"area","color":{"gradient":"linear","x1":0.479,"y1":0,"x2":0.6667,"y2":0.976,"stops":[{"offset":0,"color":"#4d0000"},{"offset":0.077,"color":"#990000"},{"offset":0.128,"color":"#cc0000"},{"offset":0.154,"color":"#ff0000"},{"offset":0.267,"color":"#ff0000"},{"offset":0.285,"color":"#ff3300"},{"offset":0.331,"color":"#ff6600"},{"offset":0.369,"color":"#ff9900"},{"offset":0.406,"color":"#ffcc00"},{"offset":0.433,"color":"#ffff00"},{"offset":0.465,"color":"#ffff00"},{"offset":0.523,"color":"#bfff00"},{"offset":0.544,"color":"#a0ff00"},{"offset":0.598,"color":"#40ff00"},{"offset":0.61,"color":"#00ff00"},{"offset":0.644,"color":"#00f868"},{"offset":0.673,"color":"#00ffa0"},{"offset":0.696,"color":"#00ffff"},{"offset":0.742,"color":"#00a0ff"},{"offset":0.782,"color":"#0060ff"},{"offset":0.822,"color":"#0000ff"},{"offset":0.879,"color":"#6000ff"},{"offset":0.937,"color":"#8000a0"},{"offset":1,"color":"#4d0070"}]}},"encoding":{"y2":{"field":"y2"}}},
{"data":{"name":"surfC"},"mark":{"type":"area","color":{"gradient":"linear","x1":0.498,"y1":0,"x2":0.6565,"y2":0.979,"stops":[{"offset":0,"color":"#4d0000"},{"offset":0.086,"color":"#990000"},{"offset":0.143,"color":"#cc0000"},{"offset":0.172,"color":"#ff0000"},{"offset":0.293,"color":"#ff0000"},{"offset":0.307,"color":"#ff3300"},{"offset":0.346,"color":"#ff6600"},{"offset":0.378,"color":"#ff9900"},{"offset":0.409,"color":"#ffcc00"},{"offset":0.432,"color":"#ffff00"},{"offset":0.459,"color":"#ffff00"},{"offset":0.508,"color":"#bfff00"},{"offset":0.526,"color":"#a0ff00"},{"offset":0.571,"color":"#40ff00"},{"offset":0.58,"color":"#00ff00"},{"offset":0.617,"color":"#00f868"},{"offset":0.648,"color":"#00ffa0"},{"offset":0.673,"color":"#00ffff"},{"offset":0.722,"color":"#00a0ff"},{"offset":0.765,"color":"#0060ff"},{"offset":0.808,"color":"#0000ff"},{"offset":0.87,"color":"#6000ff"},{"offset":0.932,"color":"#8000a0"},{"offset":1,"color":"#4d0070"}]}},"encoding":{"y2":{"field":"y2"}}},
{"data":{"name":"diag"},"mark":{"type":"rule","stroke":"#8a8a8a","strokeWidth":1,"opacity":0.45},"encoding":{"x2":{"field":"x2"},"y2":{"field":"y2"}}},
{"data":{"name":"mesh"},"mark":{"type":"rule","stroke":"#808080","strokeWidth":1.2,"opacity":0.7},"encoding":{"x2":{"field":"x2"},"y2":{"field":"y2"}}},
{"data":{"name":"bars"},"mark":{"type":"rect","stroke":"#444444","strokeWidth":2,"color":{"gradient":"linear","x1":0.5,"y1":0,"x2":0.5,"y2":1,"stops":[{"offset":0,"color":"#4d0000"},{"offset":0.1,"color":"#990000"},{"offset":0.166,"color":"#cc0000"},{"offset":0.2,"color":"#ff0000"},{"offset":0.34,"color":"#ff0000"},{"offset":0.357,"color":"#ff3300"},{"offset":0.4,"color":"#ff6600"},{"offset":0.435,"color":"#ff9900"},{"offset":0.47,"color":"#ffcc00"},{"offset":0.495,"color":"#ffff00"},{"offset":0.525,"color":"#ffff00"},{"offset":0.58,"color":"#bfff00"},{"offset":0.6,"color":"#a0ff00"},{"offset":0.65,"color":"#40ff00"},{"offset":0.66,"color":"#00ff00"},{"offset":0.69,"color":"#00f868"},{"offset":0.715,"color":"#00ffa0"},{"offset":0.735,"color":"#00ffff"},{"offset":0.775,"color":"#00a0ff"},{"offset":0.81,"color":"#0060ff"},{"offset":0.845,"color":"#0000ff"},{"offset":0.895,"color":"#6000ff"},{"offset":0.945,"color":"#8000a0"},{"offset":1,"color":"#4d0070"}]}},"encoding":{"x2":{"field":"x2"},"y2":{"field":"y2"}}},
{"data":{"name":"barTicks"},"mark":{"type":"rule","stroke":"#333333","strokeWidth":2.4},"encoding":{"x2":{"field":"x2"},"y2":{"field":"y2"}}},
{"data":{"name":"barLabels"},"mark":{"type":"text","fontSize":30,"align":"right","baseline":"middle"},"encoding":{"text":{"field":"t"}}},
{"data":{"name":"zLabels"},"mark":{"type":"text","fontSize":36,"align":"left","baseline":"middle"},"encoding":{"text":{"field":"t"}}},
{"data":{"name":"floorLabels"},"mark":{"type":"text","fontSize":36,"align":"center","baseline":"middle"},"encoding":{"text":{"field":"t"}}},
{"data":{"values":[{"x":1300,"y":565,"t":"T"},{"x":2635,"y":576,"t":"T"},{"x":4031,"y":565,"t":"T"}]},"mark":{"type":"text","fontSize":46,"fontStyle":"italic","angle":270,"align":"left","baseline":"alphabetic"},"encoding":{"text":{"field":"t"}}},
{"data":{"values":[{"x":1302,"y":540,"t":"cog"},{"x":2637,"y":551,"t":"cog"},{"x":4033,"y":540,"t":"cog"}]},"mark":{"type":"text","fontSize":19,"angle":270,"align":"left","baseline":"alphabetic"},"encoding":{"text":{"field":"t"}}},
{"data":{"values":[{"x":1300,"y":514,"t":"/mN·m"},{"x":2635,"y":524,"t":"/mN·m"},{"x":4031,"y":514,"t":"/mN·m"}]},"mark":{"type":"text","fontSize":46,"angle":270,"align":"left","baseline":"alphabetic"},"encoding":{"text":{"field":"t"}}},
{"data":{"values":[{"x":328,"y":941,"t":"b"},{"x":1694,"y":941,"t":"β"},{"x":3073,"y":931,"t":"β"}]},"mark":{"type":"text","fontSize":44,"fontStyle":"italic","angle":30,"align":"left","baseline":"alphabetic"},"encoding":{"text":{"field":"t"}}},
{"data":{"values":[{"x":344,"y":957,"t":"2"}]},"mark":{"type":"text","fontSize":26,"angle":30,"align":"left","baseline":"alphabetic"},"encoding":{"text":{"field":"t"}}},
{"data":{"values":[{"x":358,"y":958,"t":"/mm"},{"x":1715,"y":953,"t":"/(°)"},{"x":3096,"y":944,"t":"/(°)"}]},"mark":{"type":"text","fontSize":44,"angle":30,"align":"left","baseline":"alphabetic"},"encoding":{"text":{"field":"t"}}},
{"data":{"values":[{"x":1012,"y":962,"t":"b"},{"x":2354,"y":958,"t":"b"},{"x":3746,"y":956,"t":"b"}]},"mark":{"type":"text","fontSize":44,"fontStyle":"italic","angle":327,"align":"left","baseline":"alphabetic"},"encoding":{"text":{"field":"t"}}},
{"data":{"values":[{"x":1033,"y":955,"t":"1"},{"x":2375,"y":951,"t":"1"},{"x":3767,"y":949,"t":"2"}]},"mark":{"type":"text","fontSize":26,"angle":327,"align":"left","baseline":"alphabetic"},"encoding":{"text":{"field":"t"}}},
{"data":{"values":[{"x":1041,"y":943,"t":"/mm"},{"x":2383,"y":939,"t":"/mm"},{"x":3775,"y":937,"t":"/mm"}]},"mark":{"type":"text","fontSize":44,"angle":327,"align":"left","baseline":"alphabetic"},"encoding":{"text":{"field":"t"}}},
{"data":{"values":[{"x":598,"y":1140,"t":"("},{"x":658,"y":1140,"t":")"},{"x":1966,"y":1140,"t":"("},{"x":2030,"y":1140,"t":")"},{"x":3340,"y":1140,"t":"("},{"x":3396,"y":1140,"t":")"}]},"mark":{"type":"text","fontSize":72,"align":"left","baseline":"alphabetic","fill":"#000000"},"encoding":{"text":{"field":"t"}}},
{"data":{"values":[{"x":622,"y":1140,"t":"a"},{"x":1990,"y":1140,"t":"b"},{"x":3364,"y":1140,"t":"c"}]},"mark":{"type":"text","fontSize":72,"fontWeight":"bold","align":"left","baseline":"alphabetic","fill":"#000000"},"encoding":{"text":{"field":"t"}}}
]}
